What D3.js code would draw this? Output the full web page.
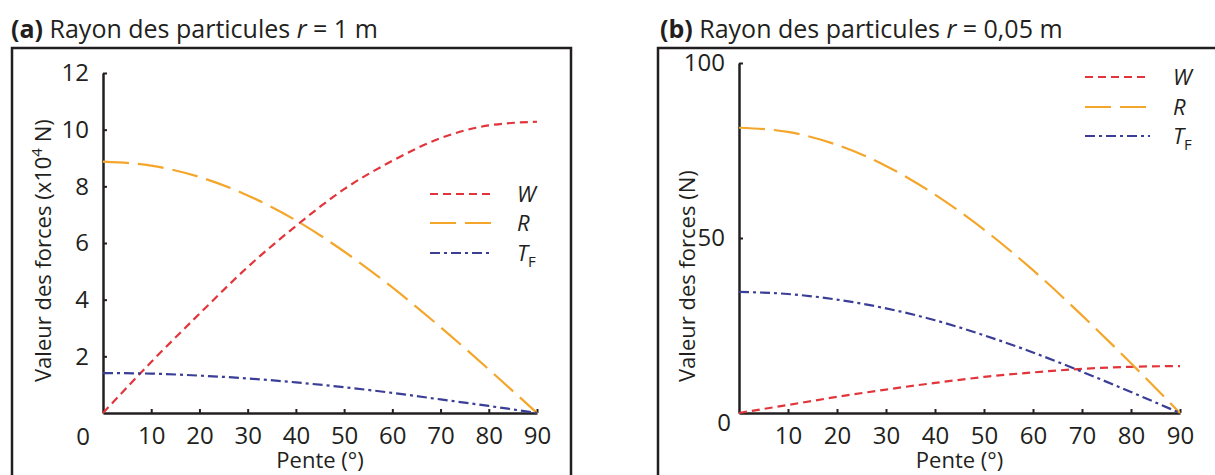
<!DOCTYPE html>
<html><head><meta charset="utf-8">
<script src="https://cdn.jsdelivr.net/npm/d3@7"></script>
<style>
html,body{margin:0;padding:0;background:#fff;}
svg{display:block;font-family:"Open Sans",sans-serif;}
</style></head><body>
<svg id="c" width="1215" height="475"></svg>
<script>
// ---- data ----
const slopes = [0, 10, 20, 30, 40, 50, 60, 70, 80, 90];
const xTickValues = [10, 20, 30, 40, 50, 60, 70, 80, 90];
const seriesNames = ["W", "R", "T"];
const seriesSubs = ["", "", "F"];
// panel (a) r = 1 m, values in x10^4 N
const aW  = [0, 1.8, 3.5, 5.15, 6.6, 7.9, 8.9, 9.7, 10.15, 10.28];
const aR  = [8.87, 8.73, 8.33, 7.68, 6.8, 5.7, 4.43, 3.03, 1.54, 0];
const aTF = [1.41, 1.39, 1.32, 1.22, 1.08, 0.91, 0.71, 0.48, 0.25, 0];
const aYTicks = [2, 4, 6, 8, 10, 12];
// panel (b) r = 0,05 m, values in N
const bW  = [0, 2.3, 4.6, 6.7, 8.6, 10.3, 11.6, 12.6, 13.2, 13.4];
const bR  = [81.5, 80.3, 76.6, 70.6, 62.4, 52.4, 40.8, 27.9, 14.2, 0];
const bTF = [34.6, 34.0, 32.4, 29.9, 26.5, 22.2, 17.3, 11.8, 6.0, 0];
const bYTicks = [50, 100];

// ---- styles ----
const colors = ["#e2353b", "#f4a62a", "#3a3e96"];
const dashes = ["8,5", "26,9", "10,4,3,4"];
const ink = "#231f20";

const svg = d3.select("#c");

function drawPanel(p) {
  const g = svg.append("g");
  // frame (open at the bottom)
  g.append("path")
    .attr("d", `M${p.frame[0]},480 V${p.frame[2]} H${p.frame[1]} V480`)
    .attr("fill", "none").attr("stroke", ink).attr("stroke-width", 2.5);

  // title
  const t = g.append("text").attr("x", p.titleX).attr("y", 38)
    .attr("font-size", 25).attr("fill", ink);
  t.append("tspan").attr("font-weight", "bold").text(p.letter);
  t.append("tspan").text(" Rayon des particules ");
  t.append("tspan").attr("font-style", "italic").text("r");
  t.append("tspan").text(" = " + p.radius);

  const x = d3.scaleLinear().domain([0, 90]).range(p.xr);
  const y = d3.scaleLinear().domain([0, p.ymax]).range(p.yr);

  const xa = g.append("g").attr("transform", `translate(0,${p.yr[0]})`)
    .call(d3.axisBottom(x).tickValues(xTickValues).tickSize(-4).tickSizeOuter(0).tickPadding(14));
  const ya = g.append("g").attr("transform", `translate(${p.xr[0]},0)`)
    .call(d3.axisLeft(y).tickValues(p.yTicks).tickSize(-4).tickSizeOuter(0).tickPadding(14));
  [xa, ya].forEach(a => {
    a.attr("font-family", null).attr("font-size", 24);
    a.select(".domain").attr("stroke", ink).attr("stroke-width", 2.5);
    a.selectAll(".tick line").attr("stroke", ink).attr("stroke-width", 2);
    a.selectAll(".tick text").attr("fill", ink);
  });
  // zero label
  g.append("text").attr("x", p.zero[0]).attr("y", p.zero[1])
    .attr("text-anchor", "end").attr("font-size", 24).attr("fill", ink).text("0");

  // axis titles
  g.append("text").attr("x", (p.xr[0] + p.xr[1]) / 2).attr("y", 468)
    .attr("text-anchor", "middle").attr("font-size", 22).attr("fill", ink).text("Pente (°)");
  const yt = g.append("text")
    .attr("transform", `translate(${p.yTitleX},382) rotate(-90)`)
    .attr("font-size", 22).attr("fill", ink);
  if (p.scaled) {
    yt.append("tspan").text("Valeur des forces (x10");
    yt.append("tspan").attr("font-size", 15).attr("dy", -9).text("4");
    yt.append("tspan").attr("dy", 9).text(" N)");
  } else {
    yt.text("Valeur des forces (N)");
  }

  // curves
  const line = d3.line().x((d, i) => x(slopes[i])).y(d => y(d)).curve(d3.curveMonotoneX);
  p.series.forEach((s, k) => {
    g.append("path").attr("d", line(s))
      .attr("fill", "none").attr("stroke", colors[k]).attr("stroke-width", 2.2)
      .attr("stroke-dasharray", dashes[k]);
  });

  // legend
  seriesNames.forEach((n, k) => {
    const ly = p.legY[k];
    g.append("line").attr("x1", p.legX[0]).attr("x2", p.legX[1])
      .attr("y1", ly).attr("y2", ly)
      .attr("stroke", colors[k]).attr("stroke-width", 2.2).attr("stroke-dasharray", dashes[k]);
    const lt = g.append("text").attr("x", p.legX[2]).attr("y", ly + 8)
      .attr("font-size", 22).attr("fill", ink);
    lt.append("tspan").attr("font-style", "italic").text(n);
    if (seriesSubs[k]) lt.append("tspan").attr("font-size", 15).attr("dy", 6).text(seriesSubs[k]);
  });
}

drawPanel({
  letter: "(a)", radius: "1 m", titleX: 11, frame: [12, 571, 48],
  xr: [103, 537], yr: [413, 73], ymax: 12, yTicks: aYTicks,
  zero: [90, 445], yTitleX: 51, scaled: true,
  series: [aW, aR, aTF],
  legX: [430, 493, 517], legY: [194, 223, 253]
});
drawPanel({
  letter: "(b)", radius: "0,05 m", titleX: 660, frame: [658, 1220, 48],
  xr: [739, 1180], yr: [413, 63], ymax: 100, yTicks: bYTicks,
  zero: [731, 431], yTitleX: 695, scaled: false,
  series: [bW, bR, bTF],
  legX: [1085, 1150, 1173], legY: [77, 107, 136]
});
</script>
</body></html>
